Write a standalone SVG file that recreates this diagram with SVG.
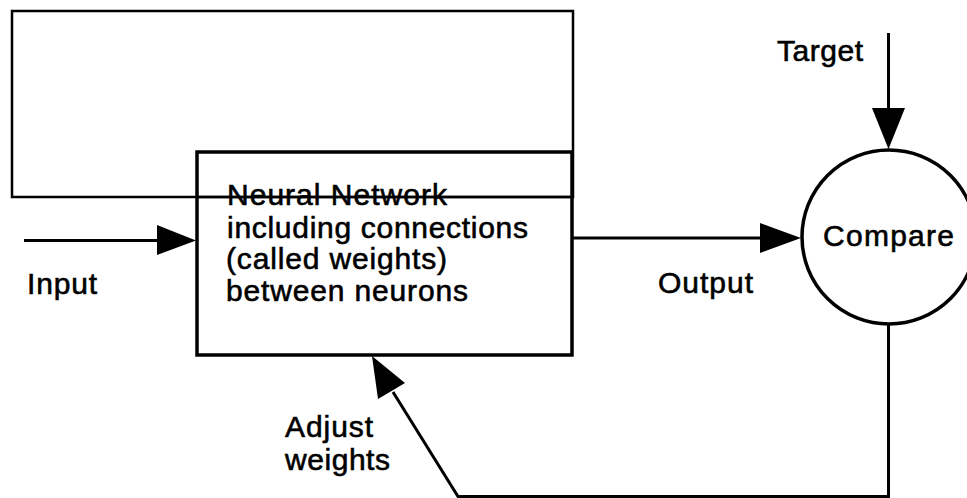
<svg xmlns="http://www.w3.org/2000/svg" width="967" height="498" viewBox="0 0 967 498">
  <style>
    .lbl { font-family: "Liberation Sans", Arial, Helvetica, sans-serif; font-size: 30px; fill: #000; stroke: #000; stroke-width: 0.6; }
    .edge { fill: none; stroke: #000; stroke-width: 3; }
    .head { fill: #000; stroke: none; }
  </style>
  <rect width="967" height="498" fill="#fff"/>

  <!-- outer feedback frame behind the network box -->
  <g id="frame">
    <rect x="12" y="11" width="561" height="186" fill="none" stroke="#000" stroke-width="2.5"/>
  </g>

  <!-- neural network block -->
  <g id="network">
    <rect x="197" y="152" width="375" height="203" fill="none" stroke="#000" stroke-width="3.5"/>
    <text class="lbl" x="227" y="205" textLength="220" lengthAdjust="spacing">Neural Network</text>
    <!-- frame edge crosses the first line of text -->
    <line x1="197" y1="197" x2="573" y2="197" stroke="#000" stroke-width="2.5"/>
    <text class="lbl" x="227" y="238" textLength="301" lengthAdjust="spacing">including connections</text>
    <text class="lbl" x="226" y="269" textLength="221" lengthAdjust="spacing">(called weights)</text>
    <text class="lbl" x="226" y="301" textLength="242" lengthAdjust="spacing">between neurons</text>
  </g>

  <!-- comparison node, partly cut by the right edge -->
  <g id="compare">
    <circle cx="889" cy="237" r="87" fill="none" stroke="#000" stroke-width="3.5"/>
    <text class="lbl" x="823" y="246" textLength="131" lengthAdjust="spacing">Compare</text>
  </g>

  <!-- labels -->
  <g id="labels">
    <text class="lbl" x="27" y="294" textLength="70" lengthAdjust="spacing">Input</text>
    <text class="lbl" x="658" y="293" textLength="95" lengthAdjust="spacing">Output</text>
    <text class="lbl" x="777" y="61" textLength="86" lengthAdjust="spacing">Target</text>
    <text class="lbl" x="285" y="437" textLength="88" lengthAdjust="spacing">Adjust</text>
    <text class="lbl" x="285" y="470" textLength="105" lengthAdjust="spacing">weights</text>
  </g>

  <!-- connectors -->
  <g id="connectors">
    <!-- input into network -->
    <line class="edge" x1="24" y1="240.5" x2="160" y2="240.5"/>
    <polygon class="head" points="157,225 196,240.5 157,255"/>

    <!-- network output to compare -->
    <line class="edge" x1="572" y1="238" x2="762" y2="238"/>
    <polygon class="head" points="760,223 801,238 760,253"/>

    <!-- target into compare -->
    <line class="edge" x1="888.5" y1="33" x2="888.5" y2="110" stroke-width="4"/>
    <polygon class="head" points="872,108 905,108 888.5,149"/>

    <!-- error feedback path back to the weights -->
    <polyline class="edge" points="888.5,324 888.5,496.5 458,496.5 393,392" stroke-width="3.5" stroke-linejoin="miter"/>
    <polygon class="head" points="372,356 405,383 378,399"/>
  </g>
</svg>
